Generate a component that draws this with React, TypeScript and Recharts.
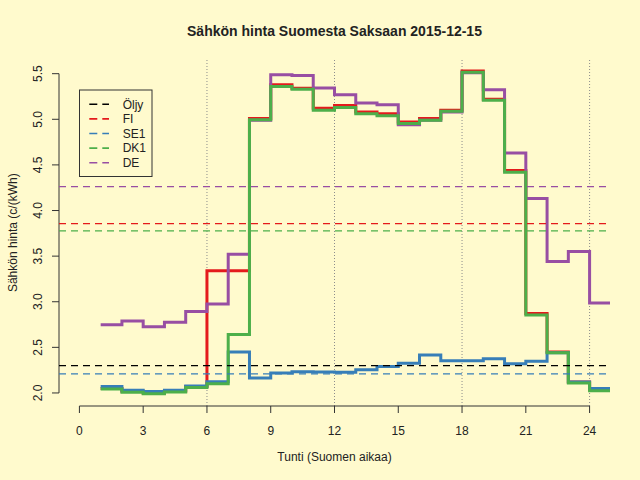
import React from "react";
import {
  ComposedChart,
  Line,
  XAxis,
  YAxis,
  ReferenceLine,
  ReferenceArea,
} from "recharts";

// Hours 1..24 (step values hold until next hour); a trailing point at 25 repeats the last value
const hours = [1, 2, 3, 4, 5, 6, 7, 8, 9, 10, 11, 12, 13, 14, 15, 16, 17, 18, 19, 20, 21, 22, 23, 24, 25];

const fiValues = [2.05, 2.02, 2.0, 2.02, 2.07, 3.34, 3.34, 5.01, 5.38, 5.34, 5.12, 5.15, 5.08, 5.06, 4.97, 5.01, 5.1, 5.53, 5.22, 4.44, 2.87, 2.45, 2.12, 2.04, 2.04];
const se1Values = [2.07, 2.03, 2.015, 2.03, 2.077, 2.124, 2.45, 2.165, 2.22, 2.233, 2.23, 2.226, 2.255, 2.29, 2.325, 2.416, 2.354, 2.354, 2.376, 2.32, 2.347, 2.44, 2.12, 2.05, 2.05];
const dk1Values = [2.044, 2.007, 1.99, 2.01, 2.06, 2.1, 2.64, 4.996, 5.36, 5.33, 5.1, 5.13, 5.06, 5.04, 4.955, 4.99, 5.087, 5.515, 5.21, 4.42, 2.855, 2.44, 2.11, 2.025, 2.025];
const deValues = [2.749, 2.789, 2.727, 2.774, 2.894, 2.975, 3.52, 4.99, 5.489, 5.48, 5.343, 5.27, 5.18, 5.16, 4.94, 4.99, 5.08, 5.51, 5.325, 4.63, 4.133, 3.44, 3.55, 2.986, 2.986];

// Average levels (dashed horizontal lines)
const avgOljy = 2.3;
const avgFI = 3.856;
const avgSE1 = 2.21;
const avgDK1 = 3.776;
const avgDE = 4.261;

const xTicks = [0, 3, 6, 9, 12, 15, 18, 21, 24];
const yTicks = [2.0, 2.5, 3.0, 3.5, 4.0, 4.5, 5.0, 5.5];
const vGrid = [6, 12, 18, 24];

const legendNames = ["Öljy", "FI", "SE1", "DK1", "DE"];
const legendColors = ["#000000", "#E41A1C", "#377EB8", "#4DAF4A", "#984EA3"];

const title = "Sähkön hinta Suomesta Saksaan 2015-12-15";
const xTitle = "Tunti (Suomen aikaa)";
const yTitle = "Sähkön hinta (c/(kWh)";

const data = hours.map((h, i) => ({
  hour: h,
  FI: fiValues[i],
  SE1: se1Values[i],
  DK1: dk1Values[i],
  DE: deValues[i],
}));

const FONT = "'Liberation Sans', Arial, Helvetica, sans-serif";
const BG = "#FFFACD";
const X_DOMAIN: [number, number] = [-0.96, 24.96];
const Y_DOMAIN: [number, number] = [1.857, 5.661];

const XTick = (props: any) => {
  const { x, y, payload } = props;
  return (
    <text x={x} y={y + 20} textAnchor="middle" fontSize={12} fill="#222" fontFamily={FONT}>
      {payload.value}
    </text>
  );
};

const YTick = (props: any) => {
  const { x, y, payload } = props;
  return (
    <text
      transform={`translate(${x - 7.7},${y}) rotate(-90)`}
      textAnchor="middle"
      fontSize={12}
      fill="#222"
      fontFamily={FONT}
    >
      {Number(payload.value).toFixed(1)}
    </text>
  );
};

export default function App() {
  const dash = "7 5";
  const dw = 1.3;
  return (
    <div
      style={{
        position: "absolute",
        left: 0,
        top: 0,
        width: 640,
        height: 480,
        background: BG,
        fontFamily: FONT,
      }}
    >
      <ComposedChart
        width={640}
        height={480}
        data={data}
        margin={{ top: 59, right: 30, bottom: 0, left: 0 }}
      >
        <XAxis
          dataKey="hour"
          type="number"
          domain={X_DOMAIN}
          allowDataOverflow
          ticks={xTicks}
          interval={0}
          height={74}
          tickSize={7}
          axisLine={false}
          tickLine={{ stroke: "#333" }}
          tick={<XTick />}
        />
        <YAxis
          type="number"
          domain={Y_DOMAIN}
          allowDataOverflow
          ticks={yTicks}
          interval={0}
          width={59}
          tickSize={7}
          axisLine={false}
          tickLine={{ stroke: "#333" }}
          tick={<YTick />}
        />
        {vGrid.map((v) => (
          <ReferenceLine key={"g" + v} x={v} stroke="#8c8c8c" strokeWidth={1} strokeDasharray="1 2" />
        ))}
        <ReferenceArea fill="none" stroke="#7a7a7a" strokeWidth={1} fillOpacity={0} ifOverflow="visible" />
        <ReferenceLine
          segment={[{ x: 0, y: Y_DOMAIN[0] }, { x: 24, y: Y_DOMAIN[0] }]}
          stroke="#333"
          strokeWidth={1}
          ifOverflow="visible"
        />
        <ReferenceLine
          segment={[{ x: X_DOMAIN[0], y: 2.0 }, { x: X_DOMAIN[0], y: 5.5 }]}
          stroke="#333"
          strokeWidth={1}
          ifOverflow="visible"
        />
        <Line dataKey="FI" type="stepAfter" stroke={legendColors[1]} strokeWidth={3} dot={false} isAnimationActive={false} />
        <Line dataKey="DE" type="stepAfter" stroke={legendColors[4]} strokeWidth={3} dot={false} isAnimationActive={false} />
        <Line dataKey="SE1" type="stepAfter" stroke={legendColors[2]} strokeWidth={3} dot={false} isAnimationActive={false} />
        <Line dataKey="DK1" type="stepAfter" stroke={legendColors[3]} strokeWidth={3} dot={false} isAnimationActive={false} />
        <ReferenceLine y={avgOljy} stroke={legendColors[0]} strokeWidth={dw} strokeDasharray={dash} />
        <ReferenceLine y={avgFI} stroke={legendColors[1]} strokeWidth={dw} strokeDasharray={dash} />
        <ReferenceLine y={avgSE1} stroke={legendColors[2]} strokeWidth={dw} strokeDasharray={dash} />
        <ReferenceLine y={avgDK1} stroke={legendColors[3]} strokeWidth={dw} strokeDasharray={dash} />
        <ReferenceLine y={avgDE} stroke={legendColors[4]} strokeWidth={dw} strokeDasharray={dash} />
      </ComposedChart>
      <svg
        width={640}
        height={480}
        style={{ position: "absolute", left: 0, top: 0, pointerEvents: "none" }}
      >
        <text x={334.5} y={36} textAnchor="middle" fontSize={14} fontWeight="bold" fill="#222" fontFamily={FONT}>
          {title}
        </text>
        <text x={334.5} y={461} textAnchor="middle" fontSize={12} fill="#222" fontFamily={FONT}>
          {xTitle}
        </text>
        <text
          transform="translate(17,232.7) rotate(-90)"
          textAnchor="middle"
          fontSize={12}
          fill="#222"
          fontFamily={FONT}
        >
          {yTitle}
        </text>
        <rect x={79.5} y={90} width={72.5} height={86.5} fill="none" stroke="#333" strokeWidth={1} />
        {legendNames.map((name, i) => {
          const cy = 104.3 + i * 14.6;
          return (
            <g key={name}>
              <line x1={89.3} x2={109} y1={cy} y2={cy} stroke={legendColors[i]} strokeWidth={1.6} strokeDasharray="8 5" />
              <text x={122.7} y={cy + 4.3} fontSize={12} fill="#222" fontFamily={FONT}>
                {name}
              </text>
            </g>
          );
        })}
      </svg>
    </div>
  );
}
